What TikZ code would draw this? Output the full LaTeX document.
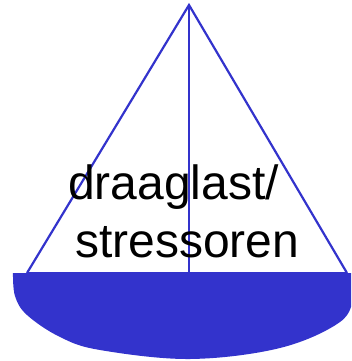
\documentclass[tikz,border=0pt]{standalone}
\usepackage{fontspec}
\setmainfont{Liberation Sans}
\definecolor{zeilblauw}{RGB}{51,51,204}
\tikzset{
  lijn/.style={draw=zeilblauw, line width=2.2pt},
  romp/.style={fill=zeilblauw},
  tekst/.style={anchor=base west, inner sep=0pt, font=\fontsize{48}{57}\selectfont}
}

\begin{document}
\begin{tikzpicture}[x=1pt,y=-1pt]
        \useasboundingbox (0,0) rectangle (351,361);
        \clip (0,0) rectangle (351,361);
        % hoekpunten van het zeil
        \coordinate (top) at (189,5);
        \coordinate (links) at (27,273);
        \coordinate (rechts) at (347,273);
        \coordinate (mast) at (189,273);
        % romp
        \fill[romp] plot[smooth, tension=0.6] coordinates {(13,273) (15,296) (27,315) (60,337)
            (100,350) (190,359) (280,348) (340,322) (354,295) (357,273)} -- cycle;
        % zeil en mast
        \draw[lijn, line join=miter] (links) -- (top) -- (rechts);
        \draw[lijn] (links) -- (rechts);
        \draw[lijn] (top) -- (mast);
        % tekst
        \node[tekst] (regel1) at (68,199) {draaglast/};
        \node[tekst] (regel2) at (75,257) {stressoren};
      \end{tikzpicture}
\end{document}
